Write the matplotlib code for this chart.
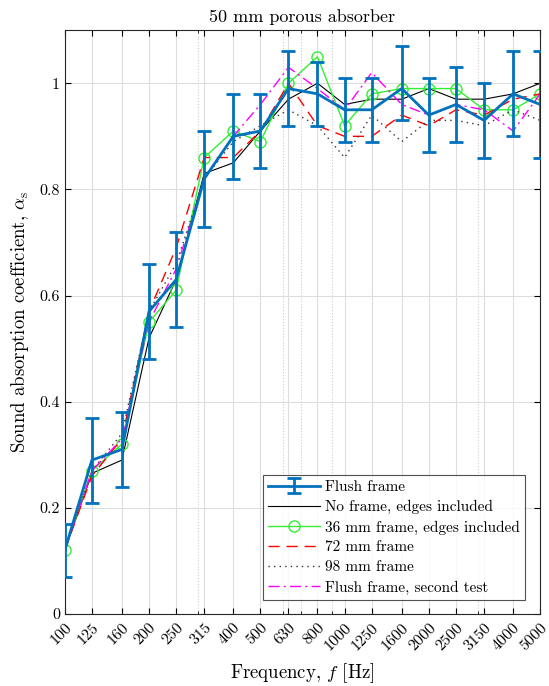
import matplotlib
matplotlib.use("Agg")
import matplotlib.pyplot as plt
from matplotlib.ticker import FixedLocator, LogLocator, NullFormatter, FixedFormatter

plt.rcParams['font.family'] = ['cmr10']
plt.rcParams['mathtext.fontset'] = 'cm'
plt.rcParams['axes.unicode_minus'] = False
plt.rcParams['axes.formatter.use_mathtext'] = True

freqs = [100, 125, 160, 200, 250, 315, 400, 500, 630, 800, 1000, 1250, 1600, 2000, 2500, 3150, 4000, 5000]
freq_labels = [str(f) for f in freqs]

flush = [0.12, 0.29, 0.31, 0.57, 0.63, 0.82, 0.90, 0.91, 0.99, 0.98, 0.95, 0.95, 0.99, 0.94, 0.96, 0.93, 0.98, 0.96]
flush_lo = [0.07, 0.21, 0.24, 0.48, 0.54, 0.73, 0.82, 0.84, 0.92, 0.92, 0.89, 0.89, 0.93, 0.87, 0.89, 0.86, 0.90, 0.86]
flush_hi = [0.17, 0.37, 0.38, 0.66, 0.72, 0.91, 0.98, 0.98, 1.06, 1.04, 1.01, 1.01, 1.07, 1.01, 1.03, 1.00, 1.06, 1.06]
no_frame = [0.12, 0.265, 0.29, 0.52, 0.63, 0.83, 0.85, 0.91, 0.97, 1.00, 0.96, 0.97, 0.97, 0.99, 0.97, 0.97, 0.98, 1.00]
frame36 = [0.12, 0.27, 0.32, 0.55, 0.61, 0.86, 0.91, 0.89, 1.00, 1.05, 0.92, 0.98, 0.99, 0.99, 0.99, 0.95, 0.95, 0.98]
frame72 = [0.12, 0.26, 0.33, 0.57, 0.69, 0.86, 0.86, 0.91, 1.00, 0.92, 0.90, 0.90, 0.94, 0.92, 0.95, 0.94, 0.97, 0.98]
frame98 = [0.12, 0.27, 0.34, 0.57, 0.66, 0.82, 0.89, 0.92, 0.95, 0.92, 0.86, 0.94, 0.89, 0.93, 0.93, 0.92, 0.95, 0.93]
flush2 = [0.12, 0.27, 0.33, 0.55, 0.65, 0.82, 0.90, 0.96, 1.03, 0.99, 0.95, 1.02, 0.96, 0.94, 0.96, 0.95, 0.91, 0.98]

fig = plt.figure(figsize=(5.49, 6.86), dpi=100)
ax = fig.add_axes([0.118, 0.105, 0.866, 0.851])

yerr = [[v - lo for v, lo in zip(flush, flush_lo)], [hi - v for v, hi in zip(flush, flush_hi)]]
h0 = ax.errorbar(freqs, flush, yerr=yerr, color='#0072BD', lw=2, elinewidth=2, capsize=5, capthick=2,
                 label='Flush frame', zorder=3)
h1, = ax.plot(freqs, no_frame, color='black', lw=0.8, label='No frame, edges included')
h2, = ax.plot(freqs, frame36, color='#33ee33', lw=1, marker='o', markersize=8, markerfacecolor='none',
              markeredgecolor='#33ee33', label='36 mm frame, edges included')
h3, = ax.plot(freqs, frame72, color='red', lw=1, dashes=(8, 5), label='72 mm frame')
h4, = ax.plot(freqs, frame98, color='#333333', lw=1, linestyle=(0, (1, 3)), label='98 mm frame')
h5, = ax.plot(freqs, flush2, color='magenta', lw=1, linestyle=(0, (8, 3, 1.5, 3)), label='Flush frame, second test')

ax.set_xscale('log')
ax.set_xlim(100, 5000)
ax.set_ylim(0, 1.1)
ax.xaxis.set_major_locator(FixedLocator(freqs))
ax.xaxis.set_major_formatter(FixedFormatter(freq_labels))
ax.xaxis.set_minor_locator(LogLocator(base=10, subs=range(2, 10)))
ax.xaxis.set_minor_formatter(NullFormatter())
ax.set_yticks([0, 0.2, 0.4, 0.6, 0.8, 1.0])
ax.set_yticklabels(['0', '0.2', '0.4', '0.6', '0.8', '1'])
for lab in ax.get_xticklabels():
    lab.set_rotation(45)
    lab.set_ha('right')
    lab.set_va('top')
    lab.set_rotation_mode('anchor')
ax.tick_params(which='both', direction='in', top=True, right=True, labelsize=11.5)
ax.tick_params(which='major', length=4)
ax.tick_params(which='minor', length=2.5)
ax.tick_params(axis='x', which='major', pad=5)
ax.grid(True, which='major', color='#dddddd', lw=0.8)
ax.grid(True, which='minor', axis='x', color='#cccccc', lw=0.8, linestyle=':')
ax.set_axisbelow(True)
for s in ax.spines.values():
    s.set_color('#262626')
    s.set_linewidth(0.8)

ax.set_title('50 mm porous absorber', fontsize=13)
ax.set_xlabel('Frequency, $f$ [Hz]', fontsize=13.5, labelpad=6)
ax.set_ylabel(r'Sound absorption coefficient, $\alpha_\mathrm{s}$', fontsize=13.5, labelpad=6)

leg = ax.legend([h0, h1, h2, h3, h4, h5],
                ['Flush frame', 'No frame, edges included', '36 mm frame, edges included',
                 '72 mm frame', '98 mm frame', 'Flush frame, second test'],
                loc='lower right', bbox_to_anchor=(0.968, 0.024), borderaxespad=0, fontsize=11,
                frameon=True, fancybox=False, edgecolor='#262626', handlelength=3.4,
                handletextpad=0.3, labelspacing=0.4, borderpad=0.35)
leg.get_frame().set_linewidth(0.8)

fig.savefig('out.png', dpi=100)
